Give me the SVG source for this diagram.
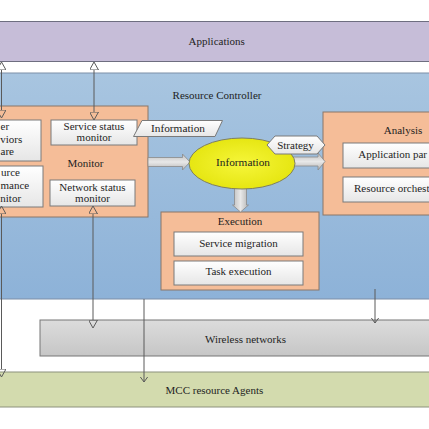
<svg xmlns="http://www.w3.org/2000/svg" width="429" height="429" viewBox="0 0 429 429">
<style>
text{font-family:"Liberation Serif","DejaVu Serif",serif;font-size:11px;fill:#1e1e1e}
.c{text-anchor:middle}
.ln{stroke:#5a5a5a;stroke-width:1;fill:none}
.orange{fill:#f5bd98;stroke:#8a7768;stroke-width:1}
.wbox{fill:url(#wg);stroke:#7a7a7a;stroke-width:1}
.blk{fill:url(#gg);stroke:#8a8a8a;stroke-width:0.8}
</style>
<defs>
<linearGradient id="wg" x1="0" y1="0" x2="0" y2="1"><stop offset="0" stop-color="#ffffff"/><stop offset="1" stop-color="#e6e6e6"/></linearGradient>
<linearGradient id="bg" x1="0" y1="0" x2="0" y2="1"><stop offset="0" stop-color="#a8c5e0"/><stop offset="1" stop-color="#8db2d8"/></linearGradient>
<linearGradient id="gray" x1="0" y1="0" x2="0" y2="1"><stop offset="0" stop-color="#dcdcdc"/><stop offset="1" stop-color="#c6c6c6"/></linearGradient>
<linearGradient id="gg" x1="0" y1="0" x2="0" y2="1"><stop offset="0" stop-color="#bdbdbd"/><stop offset="0.5" stop-color="#e8e8e8"/><stop offset="1" stop-color="#b5b5b5"/></linearGradient>
<linearGradient id="ggv" x1="0" y1="0" x2="1" y2="0"><stop offset="0" stop-color="#bdbdbd"/><stop offset="0.5" stop-color="#e8e8e8"/><stop offset="1" stop-color="#b5b5b5"/></linearGradient>
<radialGradient id="yg" cx="0.5" cy="0.5" r="0.5"><stop offset="0" stop-color="#f6f63a"/><stop offset="1" stop-color="#e6e612"/></radialGradient>
<marker id="tri" viewBox="0 0 8 9" refX="0" refY="4.5" markerWidth="8" markerHeight="9" markerUnits="userSpaceOnUse" orient="auto-start-reverse"><path d="M0,0 L8,4.5 L0,9 Z" fill="none" stroke="#5a5a5a" stroke-width="1"/></marker>
<marker id="vee" viewBox="0 0 6 8" refX="5.5" refY="4" markerWidth="6" markerHeight="8" markerUnits="userSpaceOnUse" orient="auto"><path d="M0,0 L5.5,4 L0,8" fill="none" stroke="#5a5a5a" stroke-width="1"/></marker>
</defs>

<g id="applications">
<rect x="-2" y="21.5" width="433" height="40" fill="#c6bdd8" stroke="#6e6e80"/>
<text class="c" x="216.7" y="45">Applications</text>
</g>

<g id="resource-controller">
<rect x="-2" y="73" width="433" height="226" fill="url(#bg)" stroke="#7d8fa8"/>
<text class="c" x="217" y="99">Resource Controller</text>
</g>

<g id="wireless-networks">
<rect x="40" y="320" width="392" height="36" fill="url(#gray)" stroke="#777"/>
<text class="c" x="245.5" y="342.5">Wireless networks</text>
</g>

<g id="mcc-agents">
<rect x="-2" y="372" width="433" height="35" fill="#d3dbae" stroke="#8c917c"/>
<text class="c" x="214.4" y="393.5">MCC resource Agents</text>
</g>

<g id="monitor">
<rect class="orange" x="-5" y="106" width="153" height="111"/>
<text class="c" x="85.5" y="167">Monitor</text>
</g>
<g id="user-behaviors-aware">
<rect class="wbox" x="-5" y="120" width="46" height="41"/>
<text x="0.5" y="130">er</text>
<text x="0.3" y="142.5">viors</text>
<text x="0.5" y="155">are</text>
</g>
<g id="resource-performance-monitor">
<rect class="wbox" x="-5" y="166" width="48" height="41"/>
<text x="1" y="175.5">urce</text>
<text x="0.5" y="189">mance</text>
<text x="0.3" y="201.5">nitor</text>
</g>
<g id="service-status-monitor">
<rect class="wbox" x="51" y="120" width="86" height="25"/>
<text class="c" x="94" y="129.5">Service status</text>
<text class="c" x="94" y="141">monitor</text>
</g>
<g id="network-status-monitor">
<rect class="wbox" x="50" y="180" width="85" height="26"/>
<text class="c" x="92.5" y="190.5">Network status</text>
<text class="c" x="92.5" y="201.7">monitor</text>
</g>

<g id="execution">
<rect class="orange" x="161" y="212" width="158" height="78"/>
<text class="c" x="240" y="225">Execution</text>
</g>
<g id="service-migration">
<rect class="wbox" x="174" y="232" width="129" height="24"/>
<text class="c" x="238.5" y="246.5">Service migration</text>
</g>
<g id="task-execution">
<rect class="wbox" x="174" y="261" width="129" height="24"/>
<text class="c" x="238.5" y="274.5">Task execution</text>
</g>

<g id="analysis">
<rect class="orange" x="323" y="112" width="112" height="103"/>
<text class="c" x="403" y="133.5">Analysis</text>
</g>
<g id="application-partitioning">
<rect class="wbox" x="343" y="143" width="92" height="25"/>
<text x="358.3" y="157.5">Application par</text>
</g>
<g id="resource-orchestration">
<rect class="wbox" x="343" y="177" width="92" height="25"/>
<text x="354" y="191.7">Resource orchest</text>
</g>

<g id="connectors">
<line class="ln" x1="94" y1="70" x2="94" y2="112" marker-start="url(#tri)" marker-end="url(#tri)"/>
<line class="ln" x1="93" y1="214" x2="93" y2="320" marker-start="url(#tri)" marker-end="url(#tri)"/>
<line class="ln" x1="1.5" y1="70" x2="1.5" y2="110" marker-start="url(#tri)" marker-end="url(#tri)"/>
<line class="ln" x1="1.5" y1="214" x2="1.5" y2="369" marker-start="url(#tri)" marker-end="url(#tri)"/>
<line class="ln" x1="144" y1="299" x2="144" y2="382" marker-end="url(#vee)"/>
<line class="ln" x1="375" y1="289" x2="375" y2="323" marker-end="url(#vee)"/>
<path class="blk" d="M148,157.5 H182.5 V154 L190,162 L182.5,170 V166.5 H148 Z"/>
<path class="blk" d="M288,157 H318 V153 L325,161.5 L318,170 V166 H288 Z"/>
<path d="M234.5,185 V205 H232.5 L240.5,212 L248.5,205 H246.5 V185 Z" fill="url(#ggv)" stroke="#8a8a8a" stroke-width="0.8"/>
</g>

<g id="information">
<ellipse cx="242" cy="163.5" rx="53" ry="25.5" fill="url(#yg)" stroke="#7f7f60" stroke-width="1"/>
<text class="c" x="243" y="166" style="font-size:11.3px">Information</text>
</g>

<g id="information-label">
<path d="M142,120.5 H222.5 L215,136.5 H133.5 Z" fill="url(#wg)" stroke="#7a7a7a"/>
<text class="c" x="178" y="132" style="font-size:11.3px">Information</text>
</g>

<g id="strategy-label">
<path d="M267,145 L275,136 H317 L325,145 L317,154 H275 Z" fill="url(#wg)" stroke="#7a7a7a"/>
<text class="c" x="295.5" y="148.5">Strategy</text>
</g>
</svg>
